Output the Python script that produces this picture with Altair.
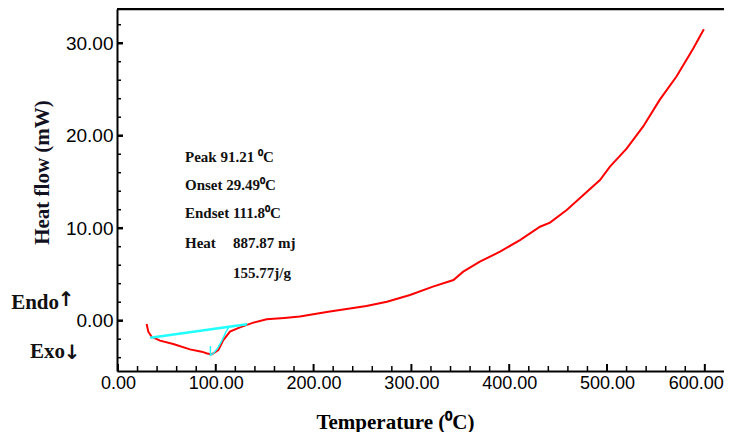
import altair as alt
import pandas as pd

# ---- data ----
temp = [29.3, 31.0, 34.4, 43.0, 56.5, 73.6, 85.5, 91.2, 95.8, 102.6,
        107.7, 114.5, 124.7, 138.4, 152.0, 170.0, 186.0, 215.0, 232.0, 254.0,
        275.0, 298.6, 322.0, 343.0, 353.0, 370.0, 390.6, 411.0, 431.5, 441.7,
        458.8, 475.8, 492.8, 503.0, 520.0, 537.0, 554.0, 571.0, 588.0, 599.0]
heat = [-0.36, -1.19, -1.73, -2.16, -2.52, -3.10, -3.35, -3.55, -3.64, -3.17,
        -2.09, -1.19, -0.72, -0.21, 0.15, 0.30, 0.45, 0.97, 1.23, 1.59,
        2.05, 2.78, 3.68, 4.40, 5.30, 6.38, 7.46, 8.72, 10.16, 10.60,
        11.97, 13.60, 15.20, 16.65, 18.60, 21.00, 23.90, 26.40, 29.40, 31.50]

base_t = [33.0, 132.0]
base_hf = [-1.85, -0.38]

trace_t = [94.5, 94.5, 98.0, 102.0, 106.0, 110.0, 113.0]
trace_hf = [-2.75, -3.75, -3.5, -2.95, -2.2, -1.3, -0.75]

x_major = [0, 100, 200, 300, 400, 500, 600]
x_minor = [v for v in range(20, 620, 20) if v % 100 != 0]
y_major = [0, 10, 20, 30]
y_minor = [v for v in range(-4, 33, 2) if v % 10 != 0]

ann_left = ["Peak 91.21 \u2070C", "Onset 29.49\u2070C", "Endset 111.8\u2070C", "Heat"]
ann_right = ["887.87 mj", "155.77j/g"]
side_words = ["Endo", "Exo"]
side_arrows = ["\u2191", "\u2193"]

# ---- layout ----
W, H = 607, 362
xs = alt.Scale(domain=[-1, 619.6], nice=False, zero=False)
ys = alt.Scale(domain=[-5.44, 33.7], nice=False, zero=False)

LABEL_FONT = "Liberation Sans, Arial, sans-serif"
SERIF = "Liberation Serif, Times New Roman, serif"

xaxis = alt.Axis(values=x_major, format=".2f", ticks=False, grid=False,
                 domainColor="black", domainWidth=2, labelFont=LABEL_FONT,
                 labelFontSize=18, labelColor="black", labelPadding=3,
                 labelFlush=False, labelOverlap=False,
                 labelOffset={"condition": {"test": "datum.value >= 600", "value": -9}, "value": 0},
                 title="Temperature (\u2070C)", titleFont=SERIF, titleFontWeight="bold",
                 titleFontSize=21, titleColor="black", titleX=278, titleY=51,
                 titleAlign="center", titleBaseline="middle", titleAnchor="start")
yaxis = alt.Axis(values=y_major, format=".2f", ticks=False, grid=False,
                 domainColor="black", domainWidth=2, labelFont=LABEL_FONT,
                 labelFontSize=19, labelColor="black", labelPadding=4,
                 labelFlush=False, labelOverlap=False,
                 title="Heat flow (mW)", titleFont=SERIF, titleFontWeight="bold",
                 titleFontSize=21, titleColor="#111122", titleX=-75, titleY=163,
                 titleAngle=270, titleAlign="center", titleBaseline="middle",
                 titleAnchor="start")


def X(f):
    return alt.X(f, scale=xs, axis=xaxis)


def Y(f):
    return alt.Y(f, scale=ys, axis=yaxis)


dsc = pd.DataFrame({"t": temp, "hf": heat})
red = alt.Chart(dsc).mark_line(color="#ff0000", strokeWidth=2).encode(
    x=X("t:Q"), y=Y("hf:Q"))

base_df = pd.DataFrame({"t": base_t, "hf": base_hf})
cyan1 = alt.Chart(base_df).mark_line(color="#22ffff", strokeWidth=2.5).encode(
    x=X("t:Q"), y=Y("hf:Q"))

trace_df = pd.DataFrame({"t": trace_t, "hf": trace_hf, "i": list(range(len(trace_t)))})
cyan2 = alt.Chart(trace_df).mark_line(color="#22ffff", strokeWidth=1.5).encode(
    x=X("t:Q"), y=Y("hf:Q"), order="i:O")

# inward ticks
xmaj = alt.Chart(pd.DataFrame({"t": x_major})).mark_rule(color="black", strokeWidth=2).encode(
    x=X("t:Q"), y=alt.value(H), y2=alt.value(H - 7))
xmin = alt.Chart(pd.DataFrame({"t": x_minor})).mark_rule(color="black", strokeWidth=1.5).encode(
    x=X("t:Q"), y=alt.value(H), y2=alt.value(H - 5))
ymaj = alt.Chart(pd.DataFrame({"hf": y_major})).mark_rule(color="black", strokeWidth=2.5).encode(
    y=Y("hf:Q"), x=alt.value(0), x2=alt.value(6))
ymin = alt.Chart(pd.DataFrame({"hf": y_minor})).mark_rule(color="black", strokeWidth=1.5).encode(
    y=Y("hf:Q"), x=alt.value(0), x2=alt.value(4))

top = alt.Chart(pd.DataFrame({"a": [0]})).mark_rule(color="black", strokeWidth=2.5).encode(
    x=alt.value(0), x2=alt.value(W), y=alt.value(0))

texts = []
for lbl, py in zip(ann_left, [148, 176, 204, 234]):
    texts.append(alt.Chart(pd.DataFrame({"s": [lbl]})).mark_text(
        align="left", baseline="middle", font=SERIF, fontSize=15, fontWeight="bold",
        color="#111111").encode(x=alt.value(68), y=alt.value(py), text="s:N"))
for lbl, py in zip(ann_right, [234, 264]):
    texts.append(alt.Chart(pd.DataFrame({"s": [lbl]})).mark_text(
        align="left", baseline="middle", font=SERIF, fontSize=15, fontWeight="bold",
        color="#111111").encode(x=alt.value(116), y=alt.value(py), text="s:N"))
for lbl, px, py in zip(side_words, [-58, -52], [294, 343]):
    texts.append(alt.Chart(pd.DataFrame({"s": [lbl]})).mark_text(
        align="right", baseline="middle", font=SERIF, fontSize=21, fontWeight="bold",
        color="#111111").encode(x=alt.value(px), y=alt.value(py), text="s:N"))
for lbl, px, py in zip(side_arrows, [-51, -45], [291, 344]):
    texts.append(alt.Chart(pd.DataFrame({"s": [lbl]})).mark_text(
        align="center", baseline="middle", font="DejaVu Sans", fontSize=20, fontWeight="bold",
        color="#111111").encode(x=alt.value(px), y=alt.value(py), text="s:N"))

chart = alt.layer(red, cyan1, cyan2, xmaj, xmin, ymaj, ymin, top, *texts).properties(
    width=W, height=H,
    autosize=alt.AutoSizeParams(type="none"),
    padding={"left": 109, "top": 1, "right": 0, "bottom": 61},
).configure_view(stroke=None).configure(background="white")

chart.save("out.html", embed_options={"renderer": "svg", "actions": False})
